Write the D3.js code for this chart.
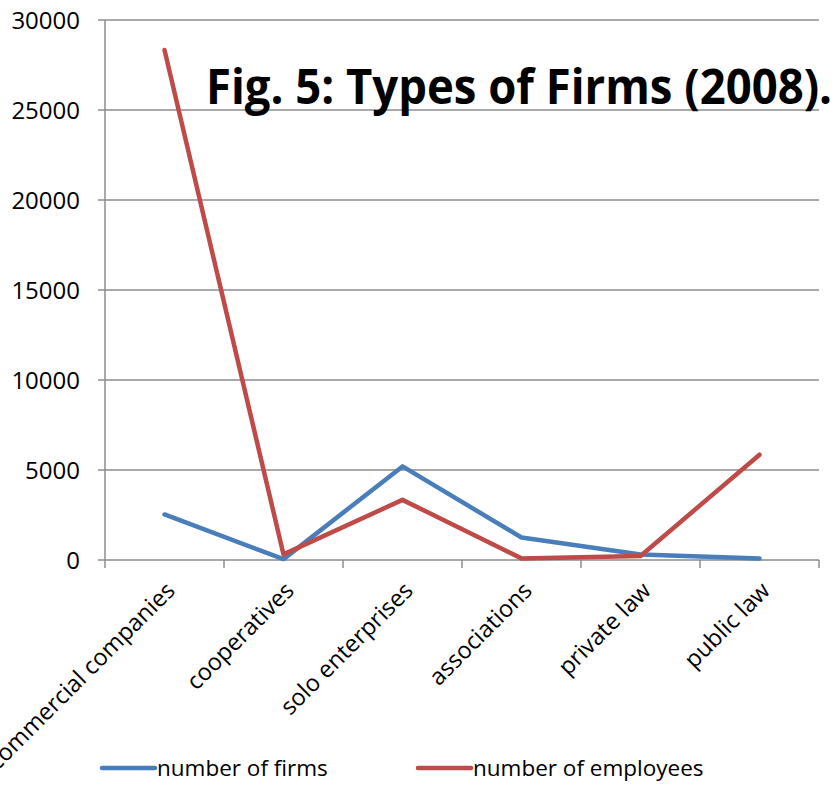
<!DOCTYPE html>
<html><head><meta charset="utf-8">
<script src="https://cdn.jsdelivr.net/npm/d3@7"></script>
<style>body{margin:0;background:#fff}svg{display:block}text{font-family:'Open Sans',sans-serif}</style>
</head><body>
<script>
const categories = ["commercial companies","cooperatives","solo enterprises","associations","private law","public law"];
const firms = [2530, 50, 5200, 1250, 310, 90];
const employees = [28330, 310, 3340, 90, 220, 5850];
const yTicks = [0, 5000, 10000, 15000, 20000, 25000, 30000];
const seriesNames = ["number of firms", "number of employees"];
const colors = ["#4A7EBB", "#BE4B48"];
const title = "Fig. 5: Types of Firms (2008).";

const W = 836, H = 786;
const svg = d3.select("body").append("svg").attr("width", W).attr("height", H);
const pL = 105, pR = 819, pT = 20, pB = 560;
const x = d3.scaleBand().domain(categories).range([pL, pR]);
const y = d3.scaleLinear().domain([0, 30000]).range([pB, pT]);

// gridlines
svg.append("g").selectAll("line").data(yTicks).join("line")
  .attr("x1", pL - 7).attr("x2", pR).attr("y1", d => y(d)).attr("y2", d => y(d))
  .attr("stroke", "#8c8c8c").attr("stroke-width", 1.5);
// y axis line
svg.append("line").attr("x1", pL).attr("x2", pL).attr("y1", pT).attr("y2", pB)
  .attr("stroke", "#8c8c8c").attr("stroke-width", 1.5);
// y labels
svg.append("g").selectAll("text").data(yTicks).join("text")
  .attr("x", 80).attr("y", d => y(d)).attr("dy", "0.36em").attr("text-anchor", "end")
  .attr("font-size", 24).attr("fill", "#000").text(d => d);
// x ticks
const tickXs = categories.map(c => x(c)).concat([pR]);
svg.append("g").selectAll("line").data(tickXs).join("line")
  .attr("x1", d => d).attr("x2", d => d).attr("y1", pB).attr("y2", pB + 8)
  .attr("stroke", "#8c8c8c").attr("stroke-width", 1.5);
// x labels
svg.append("g").selectAll("text").data(categories).join("text")
  .attr("transform", d => `translate(${x(d) + x.bandwidth()/2 + 12},${pB + 32}) rotate(-45)`)
  .attr("text-anchor", "end").attr("font-size", 23.5).attr("fill", "#000").text(d => d);

// lines
const line = d3.line().x((d, i) => x(categories[i]) + x.bandwidth()/2).y(d => y(d));
[firms, employees].forEach((s, k) => {
  svg.append("path").datum(s).attr("d", line).attr("fill", "none")
    .attr("stroke", colors[k]).attr("stroke-width", 4.5)
    .attr("stroke-linejoin", "round").attr("stroke-linecap", "round");
});

// title
svg.append("text").attr("x", 206).attr("y", 104).attr("font-size", 48).attr("font-weight", "bold")
  .attr("textLength", 626).attr("lengthAdjust", "spacingAndGlyphs").attr("fill", "#000").text(title);

// legend
const legX = [100, 416];
seriesNames.forEach((n, k) => {
  svg.append("line").attr("x1", legX[k] + 2).attr("x2", legX[k] + 55).attr("y1", 768).attr("y2", 768)
    .attr("stroke", colors[k]).attr("stroke-width", 4.5).attr("stroke-linecap", "round");
  svg.append("text").attr("x", legX[k] + 57).attr("y", 768).attr("dy", "0.36em")
    .attr("font-size", 22.5).attr("fill", "#000").text(n);
});
</script>
</body></html>
